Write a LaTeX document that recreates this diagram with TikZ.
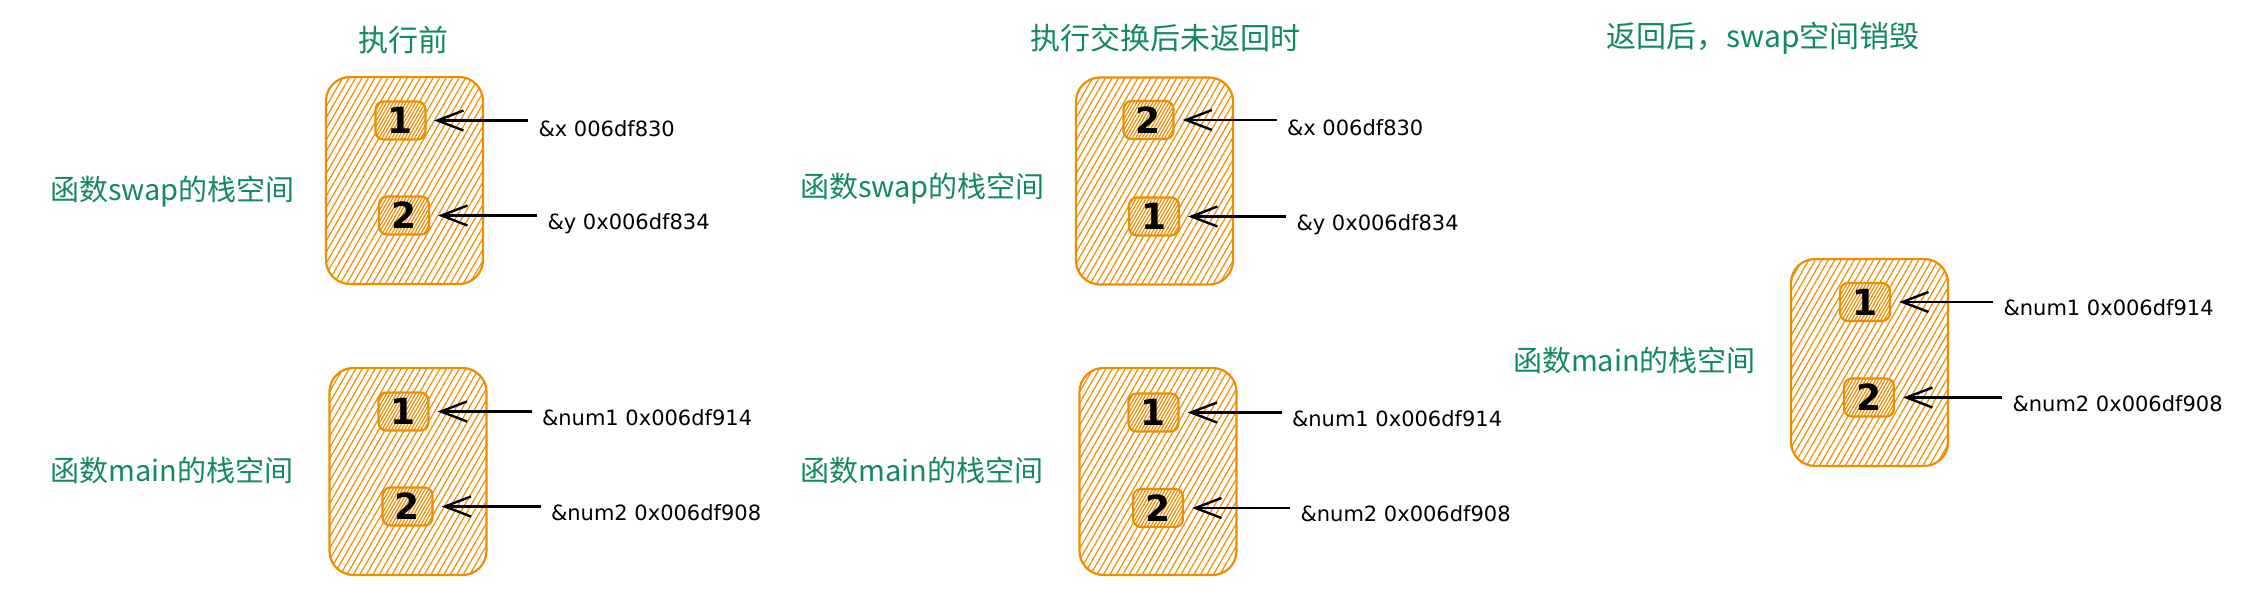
\documentclass[tikz,border=0pt]{standalone}
\usepackage{fontspec}
\setmainfont{DejaVu Sans}
\newfontfamily\cjk{Noto Sans CJK SC}
\usetikzlibrary{arrows.meta,patterns.meta,positioning}
\definecolor{stackorange}{HTML}{F08C00}
\definecolor{labelgreen}{HTML}{13895C}

\begin{document}
\begin{tikzpicture}[x=0.5pt, y=-0.5pt,
	frame/.style={draw=stackorange, line width=1.1pt, rounded corners=12pt,
		minimum width=78.5pt, minimum height=103.5pt,
		pattern={Lines[angle=60,distance=2.8pt,line width=0.6pt]}, pattern color=stackorange},
	cell/.style={draw=stackorange, line width=1.1pt, rounded corners=4pt,
		minimum width=25pt, minimum height=19pt, inner sep=0pt,
		pattern={Lines[angle=60,distance=2.8pt,xshift=1.6pt,line width=0.6pt]}, pattern color=stackorange,
		font=\fontsize{18}{18}\selectfont\bfseries},
	addr/.style={anchor=west, inner sep=0pt, font=\fontsize{10.5}{12}\selectfont},
	title/.style={text=labelgreen, font=\cjk\fontsize{15}{18}\selectfont},
	side/.style={text=labelgreen, font=\cjk\fontsize{14.5}{17}\selectfont},
	ptr/.style={-{Straight Barb[length=13pt,width=10pt]}, line width=1.2pt,
		shorten >=4pt, shorten <=5pt}]
	\useasboundingbox (0,0) rectangle (2260,593);
	\node[title] (t1) at (403,40)  {执行前};
	\node[title] (t2) at (1165,38) {执行交换后未返回时};
	\node[title] (t3) at (1763,38) {返回后，swap空间销毁};
	\node[side] (sA) at (172.5,192) {函数swap的栈空间};
	\node[side] (sB) at (172,470)   {函数main的栈空间};
	\node[side] (sC) at (922.5,189) {函数swap的栈空间};
	\node[side] (sD) at (922,470)   {函数main的栈空间};
	\node[side] (sE) at (1634.5,360) {函数main的栈空间};
	\node[frame] (A) at (404.5,180.5) {};
	\node[frame] (B) at (408,471.5)   {};
	\node[frame] (C) at (1154.5,181)  {};
	\node[frame] (D) at (1158,471.5)  {};
	\node[frame] (E) at (1869.5,362.5) {};
	\node[cell] (A1) at (400.5,120.5) {1};
	\node[cell] (A2) at (404,215.5)   {2};
	\node[cell] (B1) at (403.5,411.5) {1};
	\node[cell] (B2) at (407.5,506.5) {2};
	\node[cell] (C1) at (1148.5,120)  {2};
	\node[cell] (C2) at (1154,216.5)  {1};
	\node[cell] (D1) at (1153.5,412.5) {1};
	\node[cell] (D2) at (1158,508)    {2};
	\node[cell] (E1) at (1865,302)    {1};
	\node[cell] (E2) at (1869,397.5)  {2};
	\node[addr, right=56pt of A1, yshift=-4pt] (A1x) {\&x 006df830};
	\node[addr, right=58.5pt of A2, yshift=-4pt] (A2x) {\&y 0x006df834};
	\node[addr, right=56pt of B1, yshift=-3pt] (B1x) {\&num1 0x006df914};
	\node[addr, right=58.5pt of B2, yshift=-3pt] (B2x) {\&num2 0x006df908};
	\node[addr, right=56pt of C1, yshift=-4pt] (C1x) {\&x 006df830};
	\node[addr, right=58pt of C2, yshift=-4pt] (C2x) {\&y 0x006df834};
	\node[addr, right=56pt of D1, yshift=-3pt] (D1x) {\&num1 0x006df914};
	\node[addr, right=58pt of D2, yshift=-3pt] (D2x) {\&num2 0x006df908};
	\node[addr, right=56pt of E1, yshift=-3pt] (E1x) {\&num1 0x006df914};
	\node[addr, right=58.5pt of E2, yshift=-3pt] (E2x) {\&num2 0x006df908};
	\foreach \from/\to in {
		A1x/A1, A2x/A2, B1x/B1, B2x/B2,
		C1x/C1, C2x/C2, D1x/D1, D2x/D2,
		E1x/E1, E2x/E2}
	\draw[ptr] (\from.west |- \to.east) -- (\to.east);
\end{tikzpicture}
\end{document}
